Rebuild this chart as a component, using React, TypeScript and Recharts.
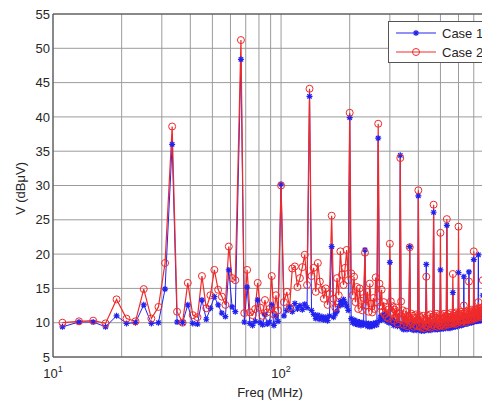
import React from "react";
import {
  LineChart,
  Line,
  XAxis,
  YAxis,
  CartesianGrid,
  ReferenceLine,
  Legend,
} from "recharts";

// frequencies in MHz (33.3 MHz harmonics plus the points in between)
const freqs = [
  11, 13, 15, 17, 19, 21, 23, 25, 27, 29, 31, 33.3,
  35, 37, 39, 41, 43, 45, 47, 49, 51, 53, 55, 57, 59, 61, 63, 66.7,
  69, 71, 73, 75, 77, 79, 81, 83, 85, 87, 89, 91, 93, 95, 97, 100,
  103, 106, 109, 112, 115, 118, 121, 124, 127, 130, 133.3,
  136, 139, 142, 145, 148, 151, 154, 157, 160, 163, 166.7,
  170, 173, 176, 179, 182, 185, 188, 191, 194, 197, 200,
  203, 206, 209, 212, 215, 218, 221, 224, 227, 230, 233.3,
  236, 239, 242, 245, 248, 251, 254, 257, 260, 263, 266.7,
  270, 273, 276, 279, 282, 285, 288, 291, 294, 297, 300,
  303, 306, 309, 312, 315, 318, 321, 324, 327, 330, 333.3,
  336, 339, 342, 345, 348, 351, 354, 357, 360, 363, 366.7,
  370, 373, 376, 379, 382, 385, 388, 391, 394, 397, 400,
  403, 406, 409, 412, 415, 418, 421, 424, 427, 430, 433.3,
  436, 439, 442, 445, 448, 451, 454, 457, 460, 463, 466.7,
  470, 473, 476, 479, 482, 485, 488, 491, 494, 497, 500,
  503, 506, 509, 512, 515, 518, 521, 524, 527, 530, 533.3,
  536, 539, 542, 545, 548, 551, 554, 557, 560, 563, 566.7,
  570, 573, 576, 579, 582, 585, 588, 591, 594, 597, 600,
  603, 606, 609, 612, 615, 618, 621, 624, 627, 630, 633.3,
  636, 639, 642, 645, 648, 651, 654, 657, 660, 663, 666.7,
  670, 673, 676, 679, 682, 685, 688, 691, 694, 697, 700,
  703, 706, 709, 712, 715, 718, 721, 724, 727, 730, 733.3,
  736, 739, 742, 745, 748, 751, 754, 757, 760, 763, 766.7,
  770, 773, 776, 779, 782, 785, 788, 791, 794, 797, 800,
];

// Case 1 (blue, stars), dBuV
const case1 = [
  9.4, 10.1, 10.1, 9.4, 11.0, 9.9, 10.0, 12.6, 9.9, 10.0, 14.9, 36.0,
  10.1, 10.0, 12.6, 9.9, 9.8, 13.3, 10.5, 12.1, 13.8, 12.6, 11.4, 10.9, 17.7, 12.3, 11.6, 48.4,
  10.1, 15.2, 9.9, 9.6, 10.2, 13.3, 10.0, 9.7, 11.2, 9.8, 10.1, 12.6, 9.6, 11.0, 10.2, 30.2,
  11.0, 11.8, 12.3, 11.6, 12.8, 12.0, 12.5, 11.9, 12.7, 12.2, 43.0,
  11.8, 11.2, 10.6, 11.1, 10.5, 10.9, 10.4, 10.8, 10.3, 11.0, 21.1,
  10.8, 11.3, 11.7, 12.4, 13.1, 12.6, 13.4, 12.9, 12.4, 11.8, 39.9,
  10.6, 10.0, 10.4, 9.8, 10.2, 9.7, 10.1, 9.6, 10.0, 9.7, 20.6,
  9.9, 9.5, 9.9, 9.4, 9.8, 9.5, 9.9, 9.6, 10.0, 9.7, 36.9,
  10.3, 10.8, 10.4, 11.1, 10.6, 11.2, 10.7, 10.2, 10.6, 10.0, 18.8,
  10.4, 10.0, 10.3, 9.6, 10.1, 9.8, 10.2, 9.5, 9.9, 9.7, 34.4,
  9.6, 9.2, 9.8, 9.0, 9.5, 9.3, 9.7, 9.0, 9.4, 9.2, 21.1,
  9.2, 9.7, 9.0, 9.5, 8.9, 9.4, 9.1, 9.6, 8.9, 9.3, 28.5,
  9.6, 9.0, 9.4, 8.8, 9.3, 9.0, 9.5, 8.8, 9.2, 9.0, 18.5,
  9.0, 9.5, 8.9, 9.3, 9.0, 9.6, 8.9, 9.4, 9.1, 9.5, 26.1,
  9.5, 9.0, 9.4, 9.1, 9.6, 9.0, 9.3, 9.1, 9.5, 9.2, 17.7,
  9.1, 9.6, 9.2, 9.5, 9.1, 9.7, 9.3, 9.6, 9.2, 9.5, 24.2,
  9.6, 9.2, 9.7, 9.3, 9.6, 9.2, 9.8, 9.4, 9.7, 9.3, 14.4,
  9.4, 9.8, 9.5, 9.7, 9.4, 9.9, 9.6, 9.8, 9.5, 9.9, 17.3,
  10.0, 9.6, 9.9, 9.7, 10.1, 9.6, 10.0, 9.7, 10.1, 9.8, 16.7,
  9.8, 10.2, 9.9, 10.1, 9.8, 10.3, 9.9, 10.2, 9.9, 10.1, 17.4,
  10.3, 10.0, 10.2, 10.1, 10.4, 10.0, 10.3, 10.1, 10.4, 10.2, 19.2,
  10.2, 10.5, 10.2, 10.4, 10.3, 10.6, 10.2, 10.5, 10.3, 10.6, 19.9,
  10.6, 10.3, 10.6, 10.4, 10.7, 10.3, 10.6, 10.4, 10.7, 10.5, 14.0,
  10.5, 10.8, 10.5, 10.7, 10.6, 10.9, 10.5, 10.8, 10.6, 10.9, 18.0,
];

// Case 2 (red, circles), dBuV
const case2 = [
  10.0, 10.2, 10.3, 9.9, 13.4, 10.6, 10.2, 14.9, 10.6, 12.3, 18.7, 38.6,
  11.6, 10.0, 15.8, 11.1, 10.8, 16.8, 12.1, 14.0, 17.7, 14.8, 13.8, 12.6, 21.1, 16.5, 16.2, 51.2,
  11.4, 17.7, 11.5, 11.1, 12.0, 15.8, 12.2, 11.0, 13.3, 11.5, 12.0, 16.8, 11.2, 14.0, 11.8, 30.0,
  13.0, 14.5, 12.2, 17.9, 18.2, 15.2, 16.5, 18.1, 19.9, 15.5, 44.1,
  16.8, 18.0, 14.5, 18.7, 16.0, 14.8, 13.5, 15.0, 12.6, 14.2, 25.6,
  13.5, 12.2, 16.5, 14.0, 20.4, 17.0, 15.5, 18.0, 20.6, 16.2, 40.6,
  17.2, 14.0, 16.7, 13.0, 15.2, 12.0, 15.0, 13.2, 11.8, 13.6, 20.2,
  12.5, 14.5, 11.6, 15.7, 12.8, 11.5, 13.6, 12.0, 16.6, 13.0, 39.0,
  15.7, 12.4, 14.8, 11.6, 13.0, 11.2, 12.3, 10.8, 11.9, 10.6, 21.5,
  13.1, 11.6, 12.4, 10.3, 11.9, 10.8, 12.2, 9.9, 11.4, 10.5, 34.0,
  13.1, 10.4, 11.8, 9.7, 11.2, 10.1, 11.6, 9.5, 10.9, 10.2, 21.0,
  9.8, 11.3, 10.0, 11.0, 9.4, 10.7, 9.7, 11.2, 9.5, 10.4, 29.3,
  11.1, 9.5, 10.8, 9.3, 10.5, 9.8, 11.0, 9.2, 10.3, 9.6, 16.7,
  9.6, 11.0, 9.4, 10.6, 9.9, 11.2, 9.3, 10.4, 9.7, 10.9, 27.2,
  11.0, 9.5, 10.7, 9.8, 11.3, 9.4, 10.5, 9.9, 11.1, 9.6, 23.1,
  9.6, 11.1, 9.8, 10.6, 9.5, 11.3, 10.0, 10.8, 9.7, 11.0, 25.1,
  10.9, 9.7, 11.2, 10.1, 10.7, 9.8, 11.4, 10.2, 10.9, 9.9, 17.1,
  9.9, 11.3, 10.1, 11.0, 9.8, 11.5, 10.3, 10.8, 10.0, 11.2, 24.0,
  11.4, 10.2, 11.1, 10.4, 11.6, 10.0, 11.3, 10.5, 11.0, 10.3, 12.5,
  10.3, 11.5, 10.5, 11.2, 10.1, 11.7, 10.6, 11.4, 10.4, 11.1, 16.0,
  11.7, 10.5, 11.4, 10.8, 11.9, 10.4, 11.6, 10.9, 11.3, 10.6, 20.4,
  10.8, 11.9, 10.6, 11.5, 10.9, 12.0, 10.7, 11.7, 11.0, 11.4, 13.0,
  12.0, 11.0, 11.7, 10.8, 12.1, 11.2, 11.8, 10.9, 12.2, 11.1, 16.2,
  11.2, 12.1, 11.0, 11.8, 11.3, 12.3, 11.1, 11.9, 11.4, 12.2, 19.0,
];

const xTicks = [
  10, 20, 30, 40, 50, 60, 70, 80, 90, 100, 200, 300, 400, 500, 600, 700, 800,
];
const xLabelTicks = [10, 100];
const yTicks = [5, 10, 15, 20, 25, 30, 35, 40, 45, 50, 55];

const data = freqs.map((f, i) => ({ freq: f, case1: case1[i], case2: case2[i] }));

const BLUE = "#2222f0";
const RED = "#f02a2a";
const FONT = "'Liberation Sans', Arial, sans-serif";
const TEXT = "#262626";

const StarDot = ({ cx, cy }: { cx?: number; cy?: number }) => {
  if (cx == null || cy == null) return null;
  const r = 3;
  const d = 2.2;
  return (
    <path
      d={`M${cx - r},${cy}L${cx + r},${cy}M${cx},${cy - r}L${cx},${cy + r}M${cx - d},${cy - d}L${cx + d},${cy + d}M${cx - d},${cy + d}L${cx + d},${cy - d}`}
      stroke={BLUE}
      strokeWidth={1.2}
      fill="none"
    />
  );
};

const CircleDot = ({ cx, cy }: { cx?: number; cy?: number }) => {
  if (cx == null || cy == null) return null;
  return <circle cx={cx} cy={cy} r={3.5} stroke={RED} strokeWidth={1} fill="none" />;
};

const XTick = ({ x, y, payload }: any) => {
  if (!xLabelTicks.includes(payload.value)) return <g />;
  const exp = Math.round(Math.log10(payload.value));
  return (
    <text x={x} y={y + 13} textAnchor="middle" fontSize={13} fontFamily={FONT} fill={TEXT}>
      <tspan>10</tspan>
      <tspan dy={-6} fontSize={9}>
        {exp}
      </tspan>
    </text>
  );
};

const LegendBox = () => (
  <div style={{ border: "1px solid #555", background: "#fff", width: 112, height: 40 }}>
    <svg width={112} height={40}>
      <line x1={7} x2={47} y1={11} y2={11} stroke={BLUE} strokeWidth={1} />
      <StarDot cx={27} cy={11} />
      <text x={53} y={15.5} fontSize={13} fontFamily={FONT} fill={TEXT}>
        Case 1
      </text>
      <line x1={7} x2={47} y1={30} y2={30} stroke={RED} strokeWidth={1} />
      <CircleDot cx={27} cy={30} />
      <text x={53} y={34.5} fontSize={13} fontFamily={FONT} fill={TEXT}>
        Case 2
      </text>
    </svg>
  </div>
);

export default function App() {
  return (
    <div
      style={{
        position: "fixed",
        left: 0,
        top: 0,
        width: 482,
        height: 400,
        overflow: "hidden",
        background: "#fff",
      }}
    >
      <LineChart
        width={500}
        height={400}
        data={data}
        margin={{ top: 14, right: 13, left: 0, bottom: 0 }}
      >
        <CartesianGrid stroke="#9c9c9c" strokeWidth={1} />
        <XAxis
          dataKey="freq"
          type="number"
          scale="log"
          domain={[10, 800]}
          allowDataOverflow
          ticks={xTicks}
          interval={0}
          height={43}
          tickLine={false}
          axisLine={{ stroke: "#444" }}
          tick={<XTick />}
          label={{
            content: (p: any) => {
              const vb = p.viewBox || {};
              return (
                <text
                  x={vb.x + vb.width / 2}
                  y={392}
                  textAnchor="middle"
                  dominantBaseline="central"
                  fontSize={13}
                  fontFamily={FONT}
                  fill={TEXT}
                >
                  Freq (MHz)
                </text>
              );
            },
          }}
        />
        <YAxis
          type="number"
          domain={[5, 55]}
          allowDataOverflow
          ticks={yTicks}
          interval={0}
          width={53}
          tickLine={false}
          tickSize={3}
          tickMargin={0}
          axisLine={{ stroke: "#444" }}
          tick={{ fontSize: 13, fontFamily: FONT, fill: TEXT }}
          label={{
            content: (p: any) => {
              const vb = p.viewBox || {};
              const cy = vb.y + vb.height / 2 + 3;
              return (
                <text
                  x={20}
                  y={cy}
                  transform={`rotate(-90 20 ${cy})`}
                  textAnchor="middle"
                  dominantBaseline="central"
                  fontSize={13}
                  fontFamily={FONT}
                  fill={TEXT}
                >
                  V (dBμV)
                </text>
              );
            },
          }}
        />
        <ReferenceLine y={55} stroke="#444" />
        <ReferenceLine x={800} stroke="#444" />
        <Line
          dataKey="case1"
          type="linear"
          stroke={BLUE}
          strokeWidth={1}
          dot={(p: any) => <StarDot key={`s${p.index}`} cx={p.cx} cy={p.cy} />}
          activeDot={false}
          isAnimationActive={false}
        />
        <Line
          dataKey="case2"
          type="linear"
          stroke={RED}
          strokeWidth={1.2}
          dot={(p: any) => <CircleDot key={`c${p.index}`} cx={p.cx} cy={p.cy} />}
          activeDot={false}
          isAnimationActive={false}
        />
        <Legend
          layout="horizontal"
          verticalAlign="middle"
          align="center"
          content={() => <LegendBox />}
          wrapperStyle={{ left: 388, top: 21, width: 114, height: 42 }}
        />
      </LineChart>
    </div>
  );
}
